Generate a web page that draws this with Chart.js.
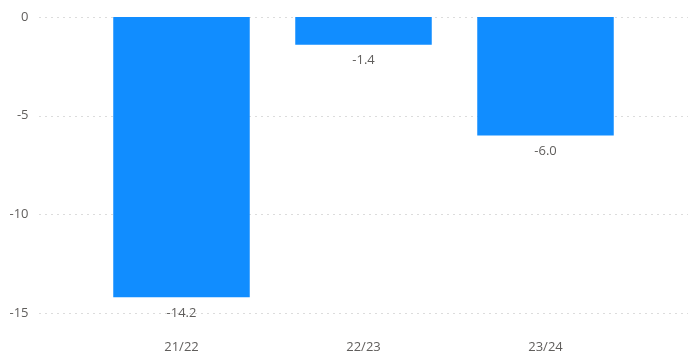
<!DOCTYPE html>
<html>
<head>
<meta charset="utf-8">
<script src="https://cdn.jsdelivr.net/npm/chart.js@4"></script>
<style>
  html, body { margin: 0; padding: 0; background: #fff; }
  #wrap { width: 688px; height: 358px; }
</style>
</head>
<body>
<div id="wrap"><canvas id="chart" width="688" height="358"></canvas></div>
<script>
const seasons = ["21/22", "22/23", "23/24"];
const change = [-14.2, -1.4, -6.0];
const yTicks = [0, -5, -10, -15];

const TEXT = "#605E5C";
const FONT = "'Open Sans', sans-serif";

// dotted guide lines across the full width at each y tick
const guideLines = {
  id: "guideLines",
  beforeDatasetsDraw(chart) {
    const ctx = chart.ctx;
    const y = chart.scales.y;
    ctx.save();
    ctx.strokeStyle = "#DCDCDC";
    ctx.lineWidth = 1;
    ctx.setLineDash([2, 4]);
    yTicks.forEach(v => {
      const py = Math.round(y.getPixelForValue(v)) + 0.5;
      ctx.beginPath();
      ctx.moveTo(39, py);
      ctx.lineTo(688, py);
      ctx.stroke();
    });
    ctx.restore();
  }
};

// value labels under each bar
const valueLabels = {
  id: "valueLabels",
  afterDatasetsDraw(chart) {
    const ctx = chart.ctx;
    const meta = chart.getDatasetMeta(0);
    ctx.save();
    ctx.font = "13px " + FONT;
    ctx.fillStyle = TEXT;
    ctx.textAlign = "center";
    ctx.textBaseline = "middle";
    meta.data.forEach((bar, i) => {
      ctx.fillText(change[i].toFixed(1), bar.x, bar.y + 16);
    });
    ctx.restore();
  }
};

new Chart(document.getElementById("chart"), {
  type: "bar",
  data: {
    labels: seasons,
    datasets: [{
      data: change,
      backgroundColor: "#118DFF",
      borderWidth: 0,
      categoryPercentage: 1,
      barPercentage: 0.75
    }]
  },
  options: {
    responsive: false,
    animation: false,
    layout: { padding: { top: 17, right: 51.5, bottom: 0, left: 0 } },
    plugins: { legend: { display: false }, tooltip: { enabled: false } },
    scales: {
      x: {
        grid: { display: false, drawTicks: false },
        border: { display: false },
        ticks: { color: TEXT, font: { family: FONT, size: 13 }, padding: 26 },
        afterFit(scale) {
          scale.height = 45;
          scale.paddingLeft = 0;
          scale.paddingRight = 0;
        }
      },
      y: {
        min: -15,
        max: 0,
        grid: { display: false, drawTicks: false },
        border: { display: false },
        afterBuildTicks(scale) { scale.ticks = yTicks.map(v => ({ value: v })); },
        ticks: { color: TEXT, font: { family: FONT, size: 13 }, padding: 62 },
        afterFit(scale) {
          scale.width = 90.5;
          scale.paddingTop = 0;
          scale.paddingBottom = 0;
        }
      }
    }
  },
  plugins: [guideLines, valueLabels]
});
</script>
</body>
</html>
